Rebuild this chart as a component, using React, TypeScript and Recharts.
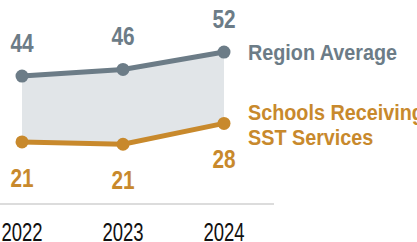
import React from 'react';
import {
  ComposedChart,
  Area,
  Line,
  XAxis,
  YAxis,
  LabelList,
} from 'recharts';

const years = ['2022', '2023', '2024'];
const regionAverage = [44.1, 46.4, 52.4];
const sstSchools = [21.4, 20.6, 27.8];
const regionName = ['Region Average'];
const sstName = ['Schools Receiving', 'SST Services'];

const GRAY = '#6c7c87';
const ORANGE = '#c8892c';
const FONT = "'Liberation Sans', Arial, sans-serif";

const data = years.map((year, i) => ({
  year,
  region: regionAverage[i],
  sst: sstSchools[i],
  band: [sstSchools[i], regionAverage[i]],
}));

const last = years.length - 1;

// the source font is a condensed sans, so squeeze Liberation Sans horizontally
function NarrowText({ x, y, size, sx, color, bold, anchor, children }: any) {
  return (
    <text
      transform={`translate(${x},${y}) scale(${sx},1)`}
      textAnchor={anchor || 'start'}
      fill={color}
      fontSize={size}
      fontWeight={bold ? 'bold' : 'normal'}
      fontFamily={FONT}
    >
      {children}
    </text>
  );
}

function YearTick(props: any) {
  const { x, y, payload } = props;
  return (
    <NarrowText x={x} y={y + 37} size={25} sx={0.74} color="#111" anchor="middle">
      {payload.value}
    </NarrowText>
  );
}

function regionLabel(props: any) {
  const { x, y, value, index } = props;
  return (
    <g>
      <NarrowText x={x} y={y - 24} size={26} sx={0.8} color={GRAY} bold anchor="middle">
        {Math.round(value)}
      </NarrowText>
      {index === last && (
        <NarrowText x={x + 24} y={y + 8} size={22} sx={0.9} color={GRAY} bold>
          {regionName[0]}
        </NarrowText>
      )}
    </g>
  );
}

function sstLabel(props: any) {
  const { x, y, value, index } = props;
  return (
    <g>
      <NarrowText x={x} y={y + 45} size={26} sx={0.8} color={ORANGE} bold anchor="middle">
        {Math.round(value)}
      </NarrowText>
      {index === last &&
        sstName.map((line, i) => (
          <NarrowText key={line} x={x + 24} y={y - 3 + i * 25} size={22} sx={0.9} color={ORANGE} bold>
            {line}
          </NarrowText>
        ))}
    </g>
  );
}

export default function App() {
  return (
    <div style={{ position: 'absolute', left: 0, top: 0, width: 417, height: 242, background: '#fff' }}>
      <ComposedChart
        width={417}
        height={242}
        data={data}
        margin={{ top: 30, right: 143, left: 0, bottom: 0 }}
      >
        <XAxis
          dataKey="year"
          height={38}
          interval={0}
          padding={{ left: 22, right: 50 }}
          tickLine={false}
          tickSize={0}
          tickMargin={0}
          axisLine={{ stroke: '#dcdcdc', strokeWidth: 2 }}
          tick={<YearTick />}
        />
        <YAxis hide domain={[0, 60]} />
        <Area
          dataKey="band"
          stroke="none"
          fill="#e1e5e8"
          fillOpacity={1}
          isAnimationActive={false}
        />
        <Line
          dataKey="region"
          stroke={GRAY}
          strokeWidth={5}
          dot={{ r: 6.5, fill: GRAY, stroke: 'none' }}
          activeDot={false}
          isAnimationActive={false}
        >
          <LabelList dataKey="region" content={regionLabel} />
        </Line>
        <Line
          dataKey="sst"
          stroke={ORANGE}
          strokeWidth={5}
          dot={{ r: 6.5, fill: ORANGE, stroke: 'none' }}
          activeDot={false}
          isAnimationActive={false}
        >
          <LabelList dataKey="sst" content={sstLabel} />
        </Line>
      </ComposedChart>
    </div>
  );
}
